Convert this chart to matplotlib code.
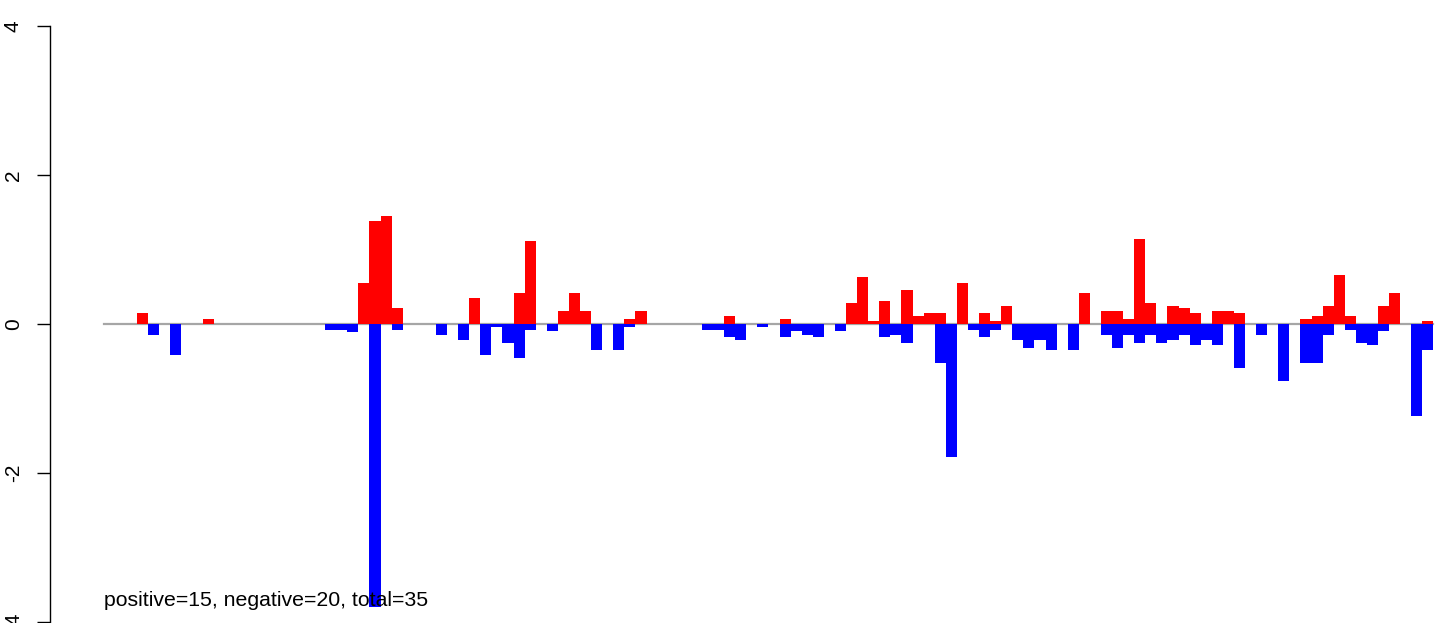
import numpy as np
import matplotlib.pyplot as plt

plt.rcParams['font.family'] = ['Liberation Sans', 'DejaVu Sans']
plt.rcParams['axes.unicode_minus'] = False

n_slots = 120

# positive (red) bars: slot index and height
pos_slots = [3, 9, 23, 24, 25, 26, 33, 37, 38, 41, 42, 43, 47, 48, 56, 61,
             67, 68, 69, 70, 72, 73, 74, 75, 77, 79, 80, 81, 88, 90, 91, 92,
             93, 94, 96, 97, 98, 100, 101, 102, 108, 109, 110, 111, 112, 115,
             116, 119]
pos_vals = [0.15, 0.07, 0.55, 1.38, 1.45, 0.21, 0.35, 0.41, 1.11, 0.17, 0.41,
            0.17, 0.07, 0.17, 0.11, 0.07, 0.28, 0.63, 0.04, 0.31, 0.46, 0.11,
            0.15, 0.15, 0.55, 0.15, 0.04, 0.24, 0.41, 0.17, 0.17, 0.07, 1.14,
            0.28, 0.24, 0.21, 0.15, 0.17, 0.17, 0.15, 0.07, 0.11, 0.24, 0.66,
            0.11, 0.24, 0.41, 0.04]

# negative (blue) bars
neg_slots = [4, 6, 20, 21, 22, 24, 26, 30, 32, 34, 35, 36, 37, 38, 40, 44,
             46, 47, 54, 55, 56, 57, 59, 61, 62, 63, 64, 66, 70, 71, 72, 75,
             76, 78, 79, 80, 82, 83, 84, 85, 87, 90, 91, 92, 93, 94, 95, 96,
             97, 98, 99, 100, 102, 104, 106, 108, 109, 110, 112, 113, 114,
             115, 118, 119]
neg_vals = [-0.15, -0.42, -0.08, -0.08, -0.11, -3.80, -0.08, -0.15, -0.21,
            -0.42, -0.04, -0.25, -0.45, -0.08, -0.10, -0.35, -0.35, -0.04,
            -0.08, -0.08, -0.17, -0.21, -0.04, -0.17, -0.10, -0.15, -0.17,
            -0.10, -0.17, -0.15, -0.25, -0.52, -1.79, -0.08, -0.17, -0.08,
            -0.21, -0.32, -0.21, -0.35, -0.35, -0.15, -0.32, -0.15, -0.25,
            -0.15, -0.25, -0.21, -0.15, -0.28, -0.21, -0.28, -0.59, -0.15,
            -0.77, -0.52, -0.52, -0.15, -0.08, -0.25, -0.28, -0.10, -1.24,
            -0.35]

label = "positive=15, negative=20, total=35"

W, H = 1452, 623
fig = plt.figure(figsize=(W / 100, H / 100), dpi=100)
ax = fig.add_axes([50 / W, 1 / H, 1 - 50 / W, 596 / H])

px = 11.083  # pixels per slot
ax.set_xlim(-(103.5 - 50) / px, (W - 103.5) / px)
ax.set_ylim(-4, 4)

ax.plot([0, n_slots], [0, 0], color='#a6a6a6', lw=1.6, zorder=1)
ax.bar(pos_slots, pos_vals, width=1, align='edge', color='#ff0000', lw=0, zorder=2)
ax.bar(neg_slots, neg_vals, width=1, align='edge', color='#0000ff', lw=0, zorder=2)

ax.text(0, -3.78, label, fontsize=15.3, va='baseline', ha='left', zorder=5)

for s in ['top', 'right', 'bottom']:
    ax.spines[s].set_visible(False)
ax.spines['left'].set_bounds(-4, 4)
ax.spines['left'].set_linewidth(1)
ax.set_xticks([])
ax.set_yticks([-4, -2, 0, 2, 4])
ax.tick_params(axis='y', length=9.5, width=1, pad=10, labelsize=15)
plt.setp(ax.get_yticklabels(), rotation=90, va='center')
ax.patch.set_visible(False)

fig.savefig('out.png', dpi=100)
